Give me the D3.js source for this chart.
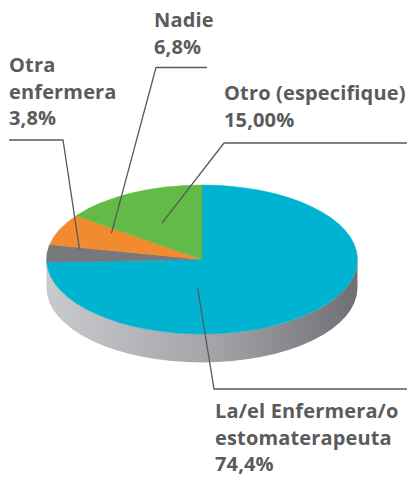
<!DOCTYPE html>
<html>
<head>
<meta charset="utf-8">
<script src="https://cdn.jsdelivr.net/npm/d3@7"></script>
<style>
  body { margin: 0; background: #fff; }
  text { font-family: "Open Sans", sans-serif; font-weight: 700; fill: #5a5b5d; letter-spacing: 0.15px; }
</style>
</head>
<body>
<div id="chart"></div>
<script>
// data, clockwise from 12 o'clock
var categories = ["La/el Enfermera/o estomaterapeuta", "Otra enfermera", "Nadie", "Otro (especifique)"];
var values = [74.4, 3.8, 6.8, 15.0];
var valueLabels = ["74,4%", "3,8%", "6,8%", "15,00%"];
var labelLines = [["La/el Enfermera/o", "estomaterapeuta"], ["Otra", "enfermera"], ["Nadie"], ["Otro (especifique)"]];
var colors = ["#00b3d1", "#77787b", "#f28a30", "#62bb46"];

var width = 409, height = 477;
var cx = 202, cy = 259.5, rx = 155.5, ry = 74.5, depth = 28.5;

// label layout: where the text sits, where the elbow is, and where on the slice the leader ends
var layout = [
    {tx: 215, ty: 418, ex: 214, ey: 389, hx2: 407, at: 0.687, r: 0.39},
    {tx: 9, ty: 72, ex: 63, ey: 140, hx2: 9, at: 0.89, r: 0.80},
    {tx: 154, ty: 27, ex: 156, ey: 67.5, hx2: 207, at: 0.8, r: 0.68},
    {tx: 224, ty: 100, ex: 224, ey: 143, hx2: 407, at: 0.48, r: 0.55}
];

var svg = d3.select("#chart")
    .append("svg")
    .attr("width", width)
    .attr("height", height);

var grad = svg.append("defs").append("linearGradient")
    .attr("id", "side")
    .attr("x1", "0%").attr("x2", "100%")
    .attr("y1", "0%").attr("y2", "0%");
grad.append("stop").attr("offset", "0%").attr("stop-color", "#c9cacd");
grad.append("stop").attr("offset", "55%").attr("stop-color", "#a2a3a7");
grad.append("stop").attr("offset", "100%").attr("stop-color", "#6f7074");

var pie = d3.pie().sort(null).startAngle(0).endAngle(2 * Math.PI);
var arcs = pie(values);

function pt(a, k) {
    k = k || 1;
    return [cx + rx * k * Math.sin(a), cy - ry * k * Math.cos(a)];
}

// side wall (front half)
svg.append("path")
    .attr("d", "M" + (cx + rx) + "," + cy +
        " A" + rx + "," + ry + " 0 0 1 " + (cx - rx) + "," + cy +
        " L" + (cx - rx) + "," + (cy + depth) +
        " A" + rx + "," + ry + " 0 0 0 " + (cx + rx) + "," + (cy + depth) + " Z")
    .attr("fill", "url(#side)");

// top face
svg.append("g")
    .selectAll("path")
    .data(arcs)
    .enter().append("path")
    .attr("d", function (d) {
        var p0 = pt(d.startAngle), p1 = pt(d.endAngle);
        var large = (d.endAngle - d.startAngle) > Math.PI ? 1 : 0;
        return "M" + cx + "," + cy + " L" + p0[0] + "," + p0[1] +
            " A" + rx + "," + ry + " 0 " + large + " 1 " + p1[0] + "," + p1[1] + " Z";
    })
    .attr("fill", function (d, i) { return colors[i]; })
    .attr("stroke", function (d, i) { return colors[i]; })
    .attr("stroke-width", 0.5);

// leader lines
svg.append("g")
    .selectAll("polyline")
    .data(arcs)
    .enter().append("polyline")
    .attr("points", function (d, i) {
        var L = layout[i];
        var a = d.startAngle + (d.endAngle - d.startAngle) * L.at;
        var p = pt(a, L.r);
        return p[0] + "," + p[1] + " " + L.ex + "," + L.ey + " " + L.hx2 + "," + L.ey;
    })
    .attr("fill", "none")
    .attr("stroke", "#58595b")
    .attr("stroke-width", 1.3);

// labels
var lab = svg.append("g")
    .selectAll("text")
    .data(arcs)
    .enter().append("text")
    .attr("x", function (d, i) { return layout[i].tx; })
    .attr("y", function (d, i) { return layout[i].ty; })
    .attr("font-size", "20px");

lab.each(function (d, i) {
    var t = d3.select(this);
    labelLines[i].concat([valueLabels[i]]).forEach(function (s, j) {
        t.append("tspan")
            .attr("x", layout[i].tx)
            .attr("dy", j === 0 ? 0 : 26.5)
            .text(s);
    });
});
</script>
</body>
</html>
